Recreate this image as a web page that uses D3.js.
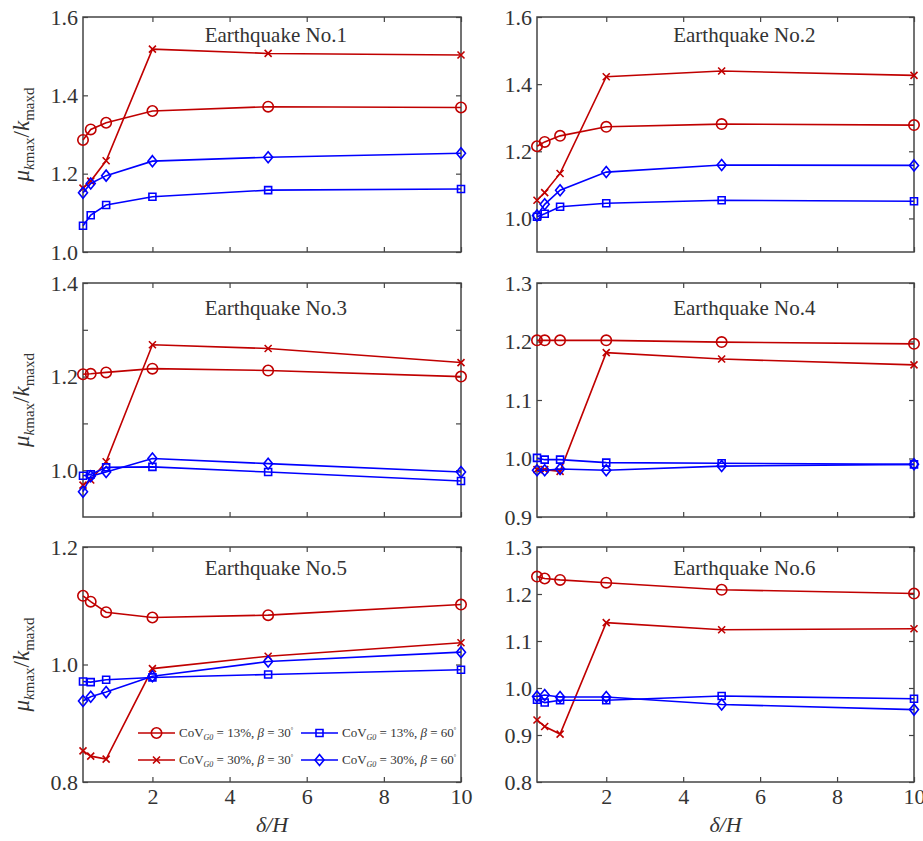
<!DOCTYPE html>
<html>
<head>
<meta charset="utf-8">
<script src="https://cdn.jsdelivr.net/npm/d3@7"></script>
<style>
body{margin:0;background:#fff;}
svg text{font-family:"Liberation Serif","Times New Roman",serif;fill:#333;}
</style>
</head>
<body>
<svg id="chart" width="923" height="841"></svg>
<script>
// data
var xValues = [0.2, 0.4, 0.8, 2, 5, 10];
var xTicks = [2, 4, 6, 8, 10];
var titles = ["Earthquake No.1","Earthquake No.2","Earthquake No.3","Earthquake No.4","Earthquake No.5","Earthquake No.6"];
var yDomains = [[1.0,1.6],[0.9,1.6],[0.9,1.4],[0.9,1.3],[0.8,1.2],[0.8,1.3]];
var yTicks = [
	[1.0,1.2,1.4,1.6],
	[1.0,1.2,1.4,1.6],
	[1.0,1.1,1.2,1.3,1.4],
	[0.9,1.0,1.1,1.2,1.3],
	[0.8,1.0,1.2],
	[0.8,0.9,1.0,1.1,1.2,1.3]
];
var yTickLabels = [
	["1.0","1.2","1.4","1.6"],
	["1.0","1.2","1.4","1.6"],
	["1.0","","1.2","","1.4"],
	["0.9","1.0","1.1","1.2","1.3"],
	["0.8","1.0","1.2"],
	["0.8","0.9","1.0","1.1","1.2","1.3"]
];

// CoV = 13%, beta = 30
var cov13b30 = [
	[1.286,1.313,1.330,1.360,1.371,1.369],
	[1.215,1.228,1.246,1.273,1.281,1.278],
	[1.205,1.206,1.209,1.217,1.213,1.200],
	[1.202,1.202,1.202,1.202,1.199,1.196],
	[1.117,1.107,1.089,1.080,1.084,1.102],
	[1.237,1.233,1.230,1.224,1.209,1.201]
];
// CoV = 30%, beta = 30
var cov30b30 = [
	[1.163,1.181,1.233,1.518,1.507,1.503],
	[1.054,1.077,1.134,1.422,1.439,1.426],
	[0.968,0.979,1.018,1.268,1.260,1.230],
	[0.981,0.981,0.978,1.181,1.170,1.160],
	[0.853,0.844,0.839,0.993,1.014,1.037],
	[0.932,0.918,0.902,1.139,1.124,1.126]
];
// CoV = 13%, beta = 60
var cov13b60 = [
	[1.067,1.094,1.120,1.141,1.158,1.161],
	[1.005,1.014,1.035,1.045,1.054,1.051],
	[0.988,0.991,1.006,1.007,0.996,0.977],
	[1.001,0.998,0.998,0.993,0.992,0.990],
	[0.971,0.970,0.974,0.978,0.983,0.991],
	[0.975,0.969,0.974,0.974,0.983,0.977]
];
// CoV = 30%, beta = 60
var cov30b60 = [
	[1.151,1.175,1.195,1.232,1.242,1.252],
	[1.009,1.042,1.084,1.138,1.159,1.158],
	[0.954,0.987,0.996,1.025,1.014,0.996],
	[0.980,0.980,0.982,0.980,0.987,0.990],
	[0.938,0.945,0.953,0.980,1.005,1.021],
	[0.982,0.985,0.981,0.981,0.965,0.954]
];

var red = "#c00000", blue = "#0000ff", axisColor = "#444";
var serif = '"Liberation Serif", "Times New Roman", serif';

var markers = {
	circle: d3.symbol().type(d3.symbolCircle).size(85)(),
	cross: "M-3.5,-3.5L3.5,3.5M-3.5,3.5L3.5,-3.5",
	square: "M-3.5,-3.5H3.5V3.5H-3.5Z",
	diamond: "M0,-5.5L4.5,0L0,5.5L-4.5,0Z"
};

var series = [
	{data: cov13b30, color: red, marker: "circle", cov: "13%", beta: "30"},
	{data: cov30b30, color: red, marker: "cross", cov: "30%", beta: "30"},
	{data: cov13b60, color: blue, marker: "square", cov: "13%", beta: "60"},
	{data: cov30b60, color: blue, marker: "diamond", cov: "30%", beta: "60"}
];

// layout
var colX = [[83,461],[537,914]];
var rowY = [[17,252],[283,517],[547,782]];
var titleX = [0.51, 0.55];
var titleDy = [25, 32, 28];

var svg = d3.select("#chart");

d3.range(6).forEach(function(p){
	var col = p % 2, row = Math.floor(p / 2);
	var x0 = colX[col][0], x1 = colX[col][1];
	var y0 = rowY[row][0], y1 = rowY[row][1];

	var x = d3.scaleLinear().domain([0.2, 10]).range([x0, x1]);
	var y = d3.scaleLinear().domain(yDomains[p]).range([y1, y0]);

	var g = svg.append("g");

	// axes, ticks pointing in
	var labels = yTickLabels[p];
	g.append("g").attr("transform", "translate(" + x0 + ",0)")
		.call(d3.axisLeft(y).tickValues(yTicks[p]).tickSize(-5).tickPadding(5)
			.tickFormat(function(d, i){ return labels[i]; }));
	g.append("g").attr("transform", "translate(" + x1 + ",0)")
		.call(d3.axisRight(y).tickValues(yTicks[p]).tickSize(-5).tickFormat(""));
	g.append("g").attr("transform", "translate(0," + y0 + ")")
		.call(d3.axisTop(x).tickValues(xTicks).tickSize(-5).tickFormat(""));
	g.append("g").attr("transform", "translate(0," + y1 + ")")
		.call(d3.axisBottom(x).tickValues(xTicks).tickSize(-5).tickPadding(6)
			.tickFormat(row == 2 ? d3.format("d") : ""));

	g.selectAll(".domain").remove();
	g.selectAll("g").attr("font-family", serif);
	g.selectAll(".tick line").attr("stroke", axisColor).attr("stroke-width", 1.2);
	g.selectAll(".tick text").attr("font-size", 22).attr("fill", "#333");

	g.append("rect")
		.attr("x", x0).attr("y", y0)
		.attr("width", x1 - x0).attr("height", y1 - y0)
		.attr("fill", "none").attr("stroke", axisColor).attr("stroke-width", 1.5);

	// title
	g.append("text")
		.attr("x", x0 + (x1 - x0) * titleX[col])
		.attr("y", y0 + titleDy[row])
		.attr("text-anchor", "middle")
		.attr("font-size", 21)
		.text(titles[p]);

	// lines + markers
	var line = d3.line()
		.x(function(d, i){ return x(xValues[i]); })
		.y(function(d){ return y(d); });

	series.forEach(function(s){
		var vals = s.data[p];
		g.append("path")
			.attr("d", line(vals))
			.attr("fill", "none")
			.attr("stroke", s.color)
			.attr("stroke-width", 1.6);
		g.selectAll(null).data(vals).enter()
			.append("path")
			.attr("transform", function(d, i){ return "translate(" + x(xValues[i]) + "," + y(d) + ")"; })
			.attr("d", markers[s.marker])
			.attr("fill", "none")
			.attr("stroke", s.color)
			.attr("stroke-width", 1.6);
	});

	// y label, left column only
	if(col == 0){
		var t = g.append("text")
			.attr("transform", "translate(29," + ((y0 + y1) / 2) + ") rotate(-90)")
			.attr("text-anchor", "middle")
			.attr("font-size", 23);
		t.append("tspan").attr("font-style", "italic").text("μ");
		t.append("tspan").attr("font-size", 15).attr("dy", 5).attr("font-style", "italic").text("k");
		t.append("tspan").attr("font-size", 15).text("max");
		t.append("tspan").attr("dy", -5).text("/");
		t.append("tspan").attr("font-style", "italic").text("k");
		t.append("tspan").attr("font-size", 15).attr("dy", 5).text("maxd");
	}

	// x label, bottom row
	if(row == 2){
		g.append("text")
			.attr("x", (x0 + x1) / 2)
			.attr("y", 832)
			.attr("text-anchor", "middle")
			.attr("font-size", 22)
			.attr("font-style", "italic")
			.text("δ/H");
	}

	// legend in panel 5
	if(p == 4){
		var lx = [138, 301], ly = [733, 760];
		series.forEach(function(s, i){
			var c = i < 2 ? 0 : 1, r = i % 2;
			var lg = g.append("g").attr("transform", "translate(" + lx[c] + "," + ly[r] + ")");
			lg.append("line").attr("x1", 0).attr("x2", 37).attr("y1", 0).attr("y2", 0)
				.attr("stroke", s.color).attr("stroke-width", 1.6);
			lg.append("path").attr("transform", "translate(18.5,0)")
				.attr("d", markers[s.marker])
				.attr("fill", "none").attr("stroke", s.color).attr("stroke-width", 1.6);
			var lt = lg.append("text").attr("x", 41).attr("y", 4).attr("font-size", 13);
			lt.append("tspan").text("CoV");
			lt.append("tspan").attr("font-size", 8).attr("font-style", "italic").attr("dy", 3).text("G0");
			lt.append("tspan").attr("dy", -3).text(" = " + s.cov + ", ");
			lt.append("tspan").attr("font-style", "italic").text("β");
			lt.append("tspan").text(" = " + s.beta);
			lt.append("tspan").attr("font-size", 6).attr("dy", -5).text("°");
		});
	}
});
</script>
</body>
</html>
